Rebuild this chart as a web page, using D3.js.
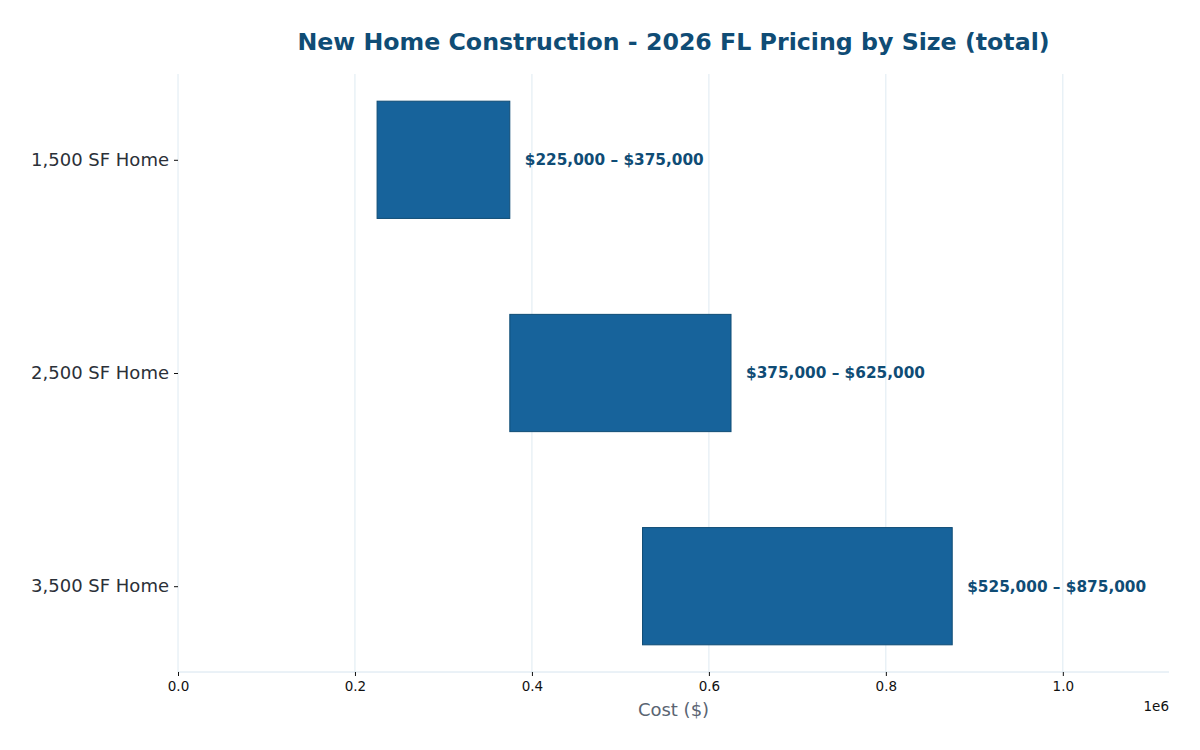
<!DOCTYPE html>
<html>
<head>
<meta charset="utf-8">
<script src="https://cdn.jsdelivr.net/npm/d3@7"></script>
<style>
  body { margin: 0; background: #fff; }
  svg { font-family: "DejaVu Sans", sans-serif; }
</style>
</head>
<body>
<div id="chart"></div>
<script>
const categories = ['1,500 SF Home', '2,500 SF Home', '3,500 SF Home'];
const lowValues = [225000, 375000, 525000];
const highValues = [375000, 625000, 875000];
const xTicks = [0, 0.2e6, 0.4e6, 0.6e6, 0.8e6, 1.0e6];

const width = 1200;
const height = 750;
const margin = { top: 74, right: 31, bottom: 78, left: 178 };

const svg = d3.select('#chart')
  .append('svg')
  .attr('width', width)
  .attr('height', height);

const xScale = d3.scaleLinear()
  .domain([0, 1.12e6])
  .range([margin.left, width - margin.right]);

// matplotlib-like y limits: bars 0.55 high, 5% margin
const yScale = d3.scaleLinear()
  .domain([-0.4025, 2.4025])
  .range([margin.top, height - margin.bottom]);

const barHeight = 0.55;

// grid lines
svg.append('g')
  .selectAll('line')
  .data(xTicks)
  .enter()
  .append('line')
  .attr('x1', d => xScale(d))
  .attr('x2', d => xScale(d))
  .attr('y1', margin.top)
  .attr('y2', height - margin.bottom)
  .attr('stroke', '#d6e4ef')
  .attr('stroke-width', 0.8);

// bottom spine
svg.append('line')
  .attr('x1', margin.left)
  .attr('x2', width - margin.right)
  .attr('y1', height - margin.bottom)
  .attr('y2', height - margin.bottom)
  .attr('stroke', '#d6e4ef')
  .attr('stroke-width', 1);

// bars
const data = categories.map((c, i) => ({ cat: c, i: i, lo: lowValues[i], hi: highValues[i] }));

svg.append('g')
  .selectAll('rect')
  .data(data)
  .enter()
  .append('rect')
  .attr('x', d => xScale(d.lo))
  .attr('width', d => xScale(d.hi) - xScale(d.lo))
  .attr('y', d => yScale(d.i - barHeight / 2))
  .attr('height', d => yScale(d.i + barHeight / 2) - yScale(d.i - barHeight / 2))
  .attr('fill', '#17639b')
  .attr('stroke', '#0f4c75')
  .attr('stroke-width', 1);

// value labels
const fmt = d3.format(',');
svg.append('g')
  .selectAll('text')
  .data(data)
  .enter()
  .append('text')
  .attr('x', d => xScale(d.hi) + 15)
  .attr('y', d => yScale(d.i))
  .attr('dy', '0.35em')
  .attr('fill', '#0f4c75')
  .attr('font-size', 15.3)
  .attr('font-weight', 'bold')
  .text(d => '$' + fmt(d.lo) + ' \u2013 $' + fmt(d.hi));

// x axis
const xAxis = svg.append('g')
  .attr('transform', `translate(0, ${height - margin.bottom})`)
  .call(d3.axisBottom(xScale).tickValues(xTicks).tickFormat(d => (d / 1e6).toFixed(1)).tickSize(4).tickPadding(5));
xAxis.select('.domain').remove();
xAxis.selectAll('line').attr('stroke', '#111').attr('stroke-width', 1);
xAxis.selectAll('text').attr('fill', '#111').attr('font-size', 13.5).attr('font-family', '"DejaVu Sans", sans-serif');

// y axis
const yAxis = svg.append('g')
  .attr('transform', `translate(${margin.left}, 0)`)
  .call(d3.axisLeft(yScale).tickValues([0, 1, 2]).tickFormat(i => categories[i]).tickSize(4).tickPadding(5));
yAxis.select('.domain').remove();
yAxis.selectAll('line').attr('stroke', '#111').attr('stroke-width', 1);
yAxis.selectAll('text').attr('fill', '#2b3038').attr('font-size', 18).attr('font-family', '"DejaVu Sans", sans-serif');

// offset text
svg.append('text')
  .attr('x', width - margin.right)
  .attr('y', 711)
  .attr('text-anchor', 'end')
  .attr('fill', '#111')
  .attr('font-size', 13.5)
  .text('1e6');

// x axis label
svg.append('text')
  .attr('x', (margin.left + width - margin.right) / 2)
  .attr('y', 716)
  .attr('text-anchor', 'middle')
  .attr('fill', '#5a6472')
  .attr('font-size', 18)
  .text('Cost ($)');

// title
svg.append('text')
  .attr('x', (margin.left + width - margin.right) / 2)
  .attr('y', 50)
  .attr('text-anchor', 'middle')
  .attr('fill', '#0f4c75')
  .attr('font-size', 23.7)
  .attr('font-weight', 'bold')
  .text('New Home Construction - 2026 FL Pricing by Size (total)');
</script>
</body>
</html>
